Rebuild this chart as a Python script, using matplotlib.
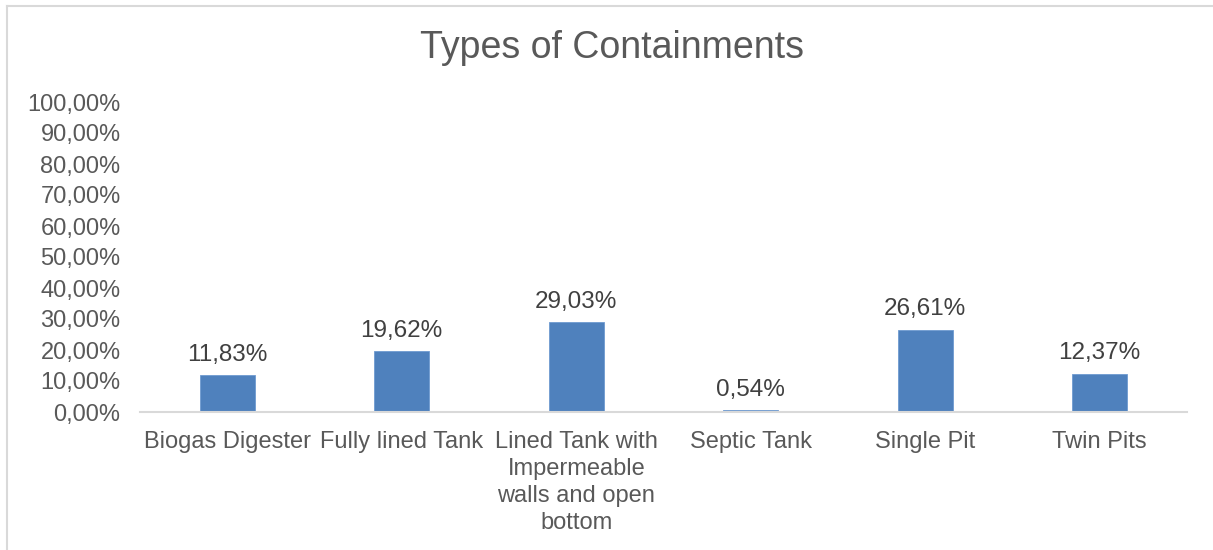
import matplotlib.pyplot as plt
from matplotlib.ticker import FuncFormatter
from matplotlib.lines import Line2D

categories = ['Biogas Digester', 'Fully lined Tank',
              'Lined Tank with\nImpermeable\nwalls and open\nbottom',
              'Septic Tank', 'Single Pit', 'Twin Pits']
values = [11.83, 19.62, 29.03, 0.54, 26.61, 12.37]
yticks = list(range(0, 101, 10))

plt.rcParams['font.family'] = ['Liberation Sans', 'DejaVu Sans']
grey = '#595959'

fig = plt.figure(figsize=(12.13, 5.5), dpi=100)
ax = fig.add_axes([140 / 1213, 1 - 412 / 550, 1047 / 1213, 310 / 550])

x = range(len(categories))
bars = ax.bar(x, values, width=0.315, color='#4F81BD', edgecolor='#6F9BD1', linewidth=0.6)
for xi, v in zip(x, values):
    ax.text(xi, v + 3.0, f'{v:.2f}%'.replace('.', ','), ha='center', va='bottom',
            fontsize=17.5, color='#404040')

ax.set_xlim(-0.5, len(categories) - 0.5)
ax.set_ylim(0, 100)
ax.set_yticks(yticks)
ax.yaxis.set_major_formatter(FuncFormatter(lambda v, p: f'{v:.2f}%'.replace('.', ',')))
ax.set_xticks(list(x))
ax.set_xticklabels(categories, linespacing=1.28)
ax.tick_params(axis='both', length=0, labelsize=17, labelcolor=grey)
ax.tick_params(axis='x', pad=14)
ax.tick_params(axis='y', pad=14)
for lbl in ax.get_xticklabels():
    lbl.set_va('top')
for s in ['top', 'right', 'left']:
    ax.spines[s].set_visible(False)
ax.spines['bottom'].set_color('#D9D9D9')
ax.spines['bottom'].set_linewidth(1.5)

fig.text(612 / 1213, 1 - 48 / 550, 'Types of Containments', ha='center', va='center',
         fontsize=27, color=grey)

# chart border (top and left visible)
fig.add_artist(Line2D([7 / 1213, 1], [1 - 6 / 550, 1 - 6 / 550], color='#D9D9D9', lw=1.5,
                      transform=fig.transFigure))
fig.add_artist(Line2D([7 / 1213, 7 / 1213], [0, 1 - 6 / 550], color='#D9D9D9', lw=1.5,
                      transform=fig.transFigure))

fig.savefig('out.png', dpi=100)
